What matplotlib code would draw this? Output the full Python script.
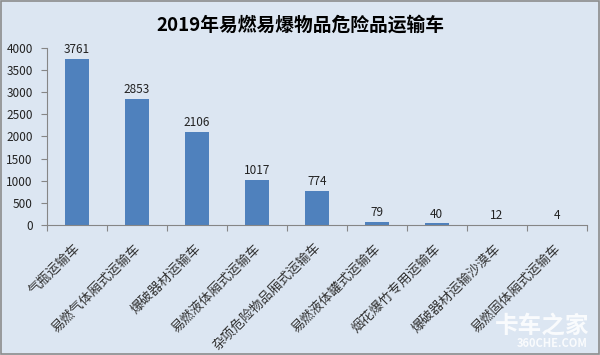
import matplotlib
matplotlib.use("Agg")
import matplotlib.pyplot as plt
import numpy as np

plt.rcParams['font.family'] = ['Noto Sans CJK SC', 'DejaVu Sans']

# dati del grafico
categorie = ["气瓶运输车", "易燃气体厢式运输车", "爆破器材运输车", "易燃液体厢式运输车",
             "杂项危险物品厢式运输车", "易燃液体罐式运输车", "烟花爆竹专用运输车",
             "爆破器材运输沙漠车", "易燃固体厢式运输车"]
valori = [3761, 2853, 2106, 1017, 774, 79, 40, 12, 4]
titolo = "2019年易燃易爆物品危险品运输车"

bg = "#dce6f2"
bar_color = "#4f81bd"
axis_color = "#868686"

fig = plt.figure(figsize=(6, 3.55), dpi=100, facecolor=bg)
ax = fig.add_axes([0.078, 0.366, 0.9, 0.499])
ax.set_facecolor(bg)

x = np.arange(len(categorie))
ax.bar(x, valori, width=0.4, color=bar_color, zorder=2)

for xi, v in zip(x, valori):
    ax.text(xi, v + 60, str(v), ha="center", va="bottom", fontsize=8.5, color="#222222")

ax.set_xlim(-0.5, len(categorie) - 0.5)
ax.set_ylim(0, 4000)
ax.set_yticks(np.arange(0, 4001, 500))
ax.tick_params(axis="y", labelsize=8.5, length=4, color=axis_color, pad=6, labelcolor="#222222")

# tick tra le categorie, etichette al centro
ax.set_xticks(np.arange(-0.5, len(categorie), 1.0))
ax.set_xticklabels([])
ax.tick_params(axis="x", length=4, color=axis_color)
ax.set_xticks(x + 0.03, minor=True)
ax.set_xticklabels(categorie, minor=True, rotation=45, ha="right", va="center",
                   rotation_mode="anchor", fontsize=9.5, color="#333333")
ax.tick_params(axis="x", which="minor", length=0, pad=15)

for s in ["top", "right"]:
    ax.spines[s].set_visible(False)
for s in ["left", "bottom"]:
    ax.spines[s].set_color(axis_color)

fig.text(0.5, 0.93, titolo, ha="center", va="center", fontsize=13.5, fontweight="bold")

# bordo esterno
fig.patches.append(plt.Rectangle((0.002, 0.003), 0.996, 0.994, transform=fig.transFigure,
                                 fill=False, edgecolor="#8c8c8c", linewidth=1.2))

# watermark
fig.text(0.983, 0.05, "卡车之家", ha="right", va="bottom", fontsize=17, fontweight="bold",
         color="white", alpha=0.85)
fig.text(0.98, 0.015, "360CHE.COM", ha="right", va="bottom", fontsize=8, fontweight="bold",
         color="white", alpha=0.85)

fig.savefig("out.png", dpi=100, facecolor=bg)
